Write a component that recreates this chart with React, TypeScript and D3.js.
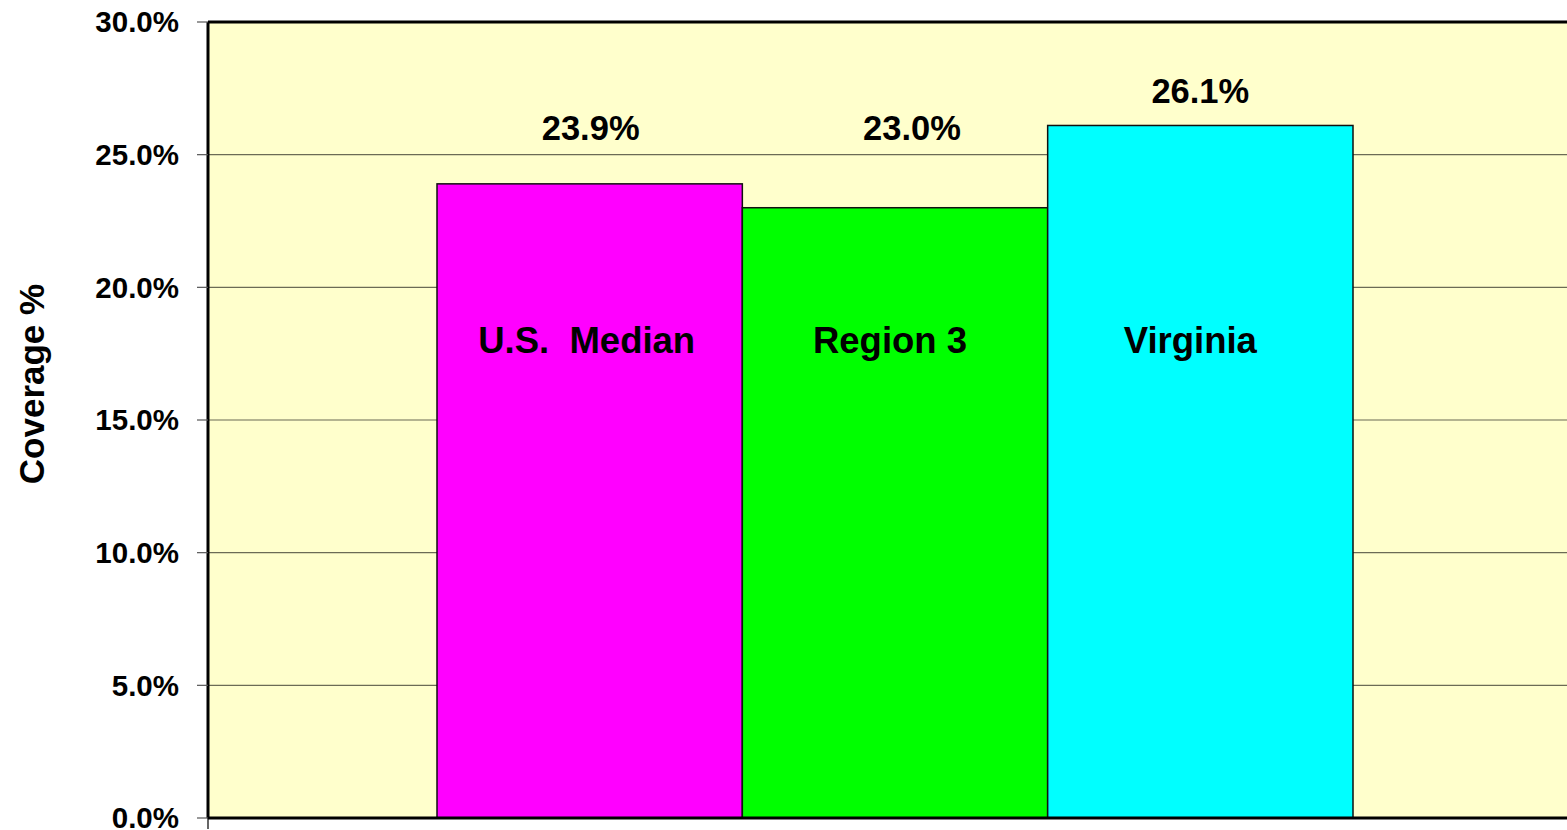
import React from 'react';
import * as d3 from 'd3';

const categories = ['Coverage'];
const series = ['U.S.  Median', 'Region 3', 'Virginia'];
const values = [23.9, 23.0, 26.1];
const valueLabels = ['23.9%', '23.0%', '26.1%'];
const yTicks = [0, 5, 10, 15, 20, 25, 30];

const colors = ['#ff00ff', '#00ff00', '#00ffff'];

const width = 1567;
const height = 830;
// plot area runs a little past the right edge of the picture
const margin = { top: 22, right: -15, bottom: 12, left: 208 };

const font = '"Liberation Sans", Arial, sans-serif';

// hand-placed annotations in the original were not exactly centred
const valueNudge = [1, 17, 0];
const nameNudge = [-3, -5, -10];

const App = () => {
    const plotRight = width - margin.right;
    const plotBottom = height - margin.bottom;

    const y = d3.scaleLinear().domain([0, 30]).range([plotBottom, margin.top]);

    const x0 = d3.scaleBand()
        .domain(categories)
        .range([margin.left, plotRight])
        .paddingInner(1 / 3)
        .paddingOuter(1 / 6);

    const x1 = d3.scaleBand()
        .domain(series)
        .range([0, x0.bandwidth()]);

    const fmt = (d: number) => d.toFixed(1) + '%';

    // value labels sit at fixed heights above the bars, like the original annotations
    const labelLevel = (v: number) => (v > 25 ? 27.4 : 26.0);

    return (
        <svg
            width={width}
            height={height}
            style={{ position: 'absolute', left: 0, top: 0, fontFamily: font }}
        >
            <rect x={margin.left} y={margin.top} width={plotRight - margin.left} height={plotBottom - margin.top} fill="#ffffcc" />

            {/* gridlines */}
            {yTicks.filter(t => t > 0 && t < 30).map(t => (
                <line key={t} x1={margin.left} x2={plotRight} y1={y(t)} y2={y(t)} stroke="#6b6b55" strokeWidth={1.2} />
            ))}

            {/* bars */}
            {categories.map(cat => (
                <g key={cat} transform={`translate(${x0(cat)},0)`}>
                    {series.map((s, i) => (
                        <rect
                            key={s}
                            x={x1(s)}
                            y={y(values[i])}
                            width={x1.bandwidth()}
                            height={y(0) - y(values[i])}
                            fill={colors[i]}
                            stroke="#111"
                            strokeWidth={1.5}
                        />
                    ))}
                    {series.map((s, i) => (
                        <text
                            key={'v' + s}
                            x={(x1(s) as number) + x1.bandwidth() / 2 + valueNudge[i]}
                            y={y(labelLevel(values[i]))}
                            dy="0.35em"
                            textAnchor="middle"
                            fontSize={34.5}
                            fontWeight="bold"
                        >
                            {valueLabels[i]}
                        </text>
                    ))}
                    {series.map((s, i) => (
                        <text
                            key={'c' + s}
                            x={(x1(s) as number) + x1.bandwidth() / 2 + nameNudge[i]}
                            y={y(18)}
                            dy="0.35em"
                            textAnchor="middle"
                            fontSize={36.5}
                            fontWeight="bold"
                            style={{ whiteSpace: 'pre' }}
                        >
                            {s}
                        </text>
                    ))}
                </g>
            ))}

            {/* frame */}
            <line x1={margin.left} x2={plotRight} y1={margin.top} y2={margin.top} stroke="#000" strokeWidth={3} />
            <line x1={margin.left} x2={plotRight} y1={plotBottom} y2={plotBottom} stroke="#000" strokeWidth={3} />
            <line x1={margin.left} x2={margin.left} y1={margin.top} y2={plotBottom} stroke="#000" strokeWidth={3} />

            {/* y axis ticks and labels */}
            {yTicks.map(t => (
                <g key={t}>
                    <line x1={margin.left - 11} x2={margin.left} y1={y(t)} y2={y(t)} stroke="#555" strokeWidth={1.2} />
                    <text
                        x={179}
                        y={y(t)}
                        dy="0.35em"
                        textAnchor="end"
                        fontSize={29.5}
                        fontWeight="bold"
                    >
                        {fmt(t)}
                    </text>
                </g>
            ))}
            <line x1={margin.left} x2={margin.left} y1={plotBottom} y2={plotBottom + 11} stroke="#000" strokeWidth={1.2} />

            <text
                transform={`translate(32,${(margin.top + plotBottom) / 2 - 36}) rotate(-90)`}
                dy="0.35em"
                textAnchor="middle"
                fontSize={35}
                fontWeight="bold"
            >
                Coverage %
            </text>
        </svg>
    );
};

export default App;
